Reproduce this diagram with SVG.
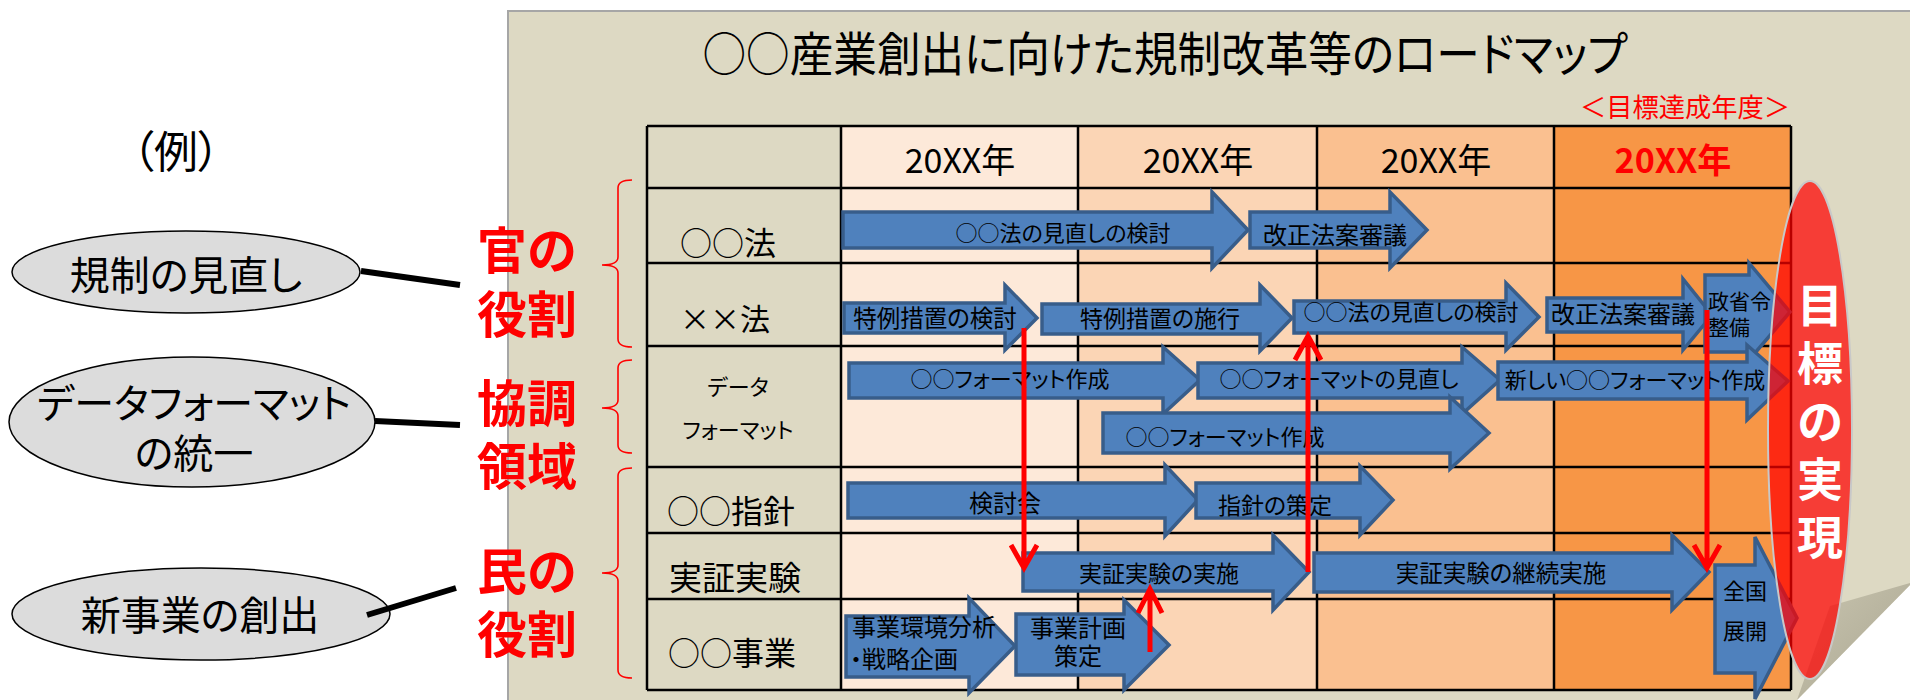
<svg xmlns="http://www.w3.org/2000/svg" width="1910" height="700" viewBox="0 0 1910 700">
<style>
text{font-family:"Noto Sans CJK JP","Noto Sans",sans-serif;font-feature-settings:"palt" 1;fill:#000}
.arw{fill:#4F81BD;stroke:#385D8A;stroke-width:3.5;stroke-linejoin:miter}
.grid{stroke:#000;stroke-width:2.5;fill:none}
.red{stroke:#FF0000;stroke-width:5;fill:none;stroke-linecap:butt}
.brace{stroke:#FF0000;stroke-width:1.6;fill:none}
.role{fill:#FF0000;font-weight:bold;font-size:50px}
.oval{fill:#DCDCDC;stroke:#000;stroke-width:1.5}
.conn{stroke:#000;stroke-width:6}
.al{font-size:22px}
.lbl{font-size:32px}
.hdr{font-size:34px;text-anchor:middle}
.mid{text-anchor:middle}
</style>
<defs>
<linearGradient id="flapg" x1="0" y1="0" x2="1" y2="1">
<stop offset="0" stop-color="#C9C5AF"/><stop offset="1" stop-color="#A9A591"/>
</linearGradient>
</defs>

<g id="panel">
<rect x="508" y="11" width="1410" height="700" fill="#DDD9C3" stroke="#A6A6A6" stroke-width="2"/>
<text x="1165" y="71" font-size="47" text-anchor="middle" textLength="925" lengthAdjust="spacingAndGlyphs">○○産業創出に向けた規制改革等のロードマップ</text>
<text x="1685" y="117" font-size="26" fill="#FF0000" style="fill:#FF0000" text-anchor="middle" textLength="210" lengthAdjust="spacingAndGlyphs">＜目標達成年度＞</text>
</g>

<g id="table">
<rect x="647" y="126" width="194" height="564" fill="#DDD9C3"/>
<rect x="841" y="126" width="237" height="564" fill="#FDE9D9"/>
<rect x="1078" y="126" width="239" height="564" fill="#FBD5B5"/>
<rect x="1317" y="126" width="237" height="564" fill="#FAC090"/>
<rect x="1554" y="126" width="237" height="564" fill="#F79646"/>
<path class="grid" d="M647,126H1791M647,188H1791M647,263H1791M647,346H1791M647,467H1791M647,533H1791M647,599H1791M647,690H1791M647,126V690M841,126V690M1078,126V690M1317,126V690M1554,126V690M1791,126V690"/>
<text class="hdr" x="960" y="173">20XX年</text>
<text class="hdr" x="1198" y="173">20XX年</text>
<text class="hdr" x="1436" y="173">20XX年</text>
<text class="hdr" x="1673" y="173" style="fill:#FF0000;font-weight:bold">20XX年</text>
<text class="lbl" x="680" y="255">○○法</text>
<text x="725" y="330" font-size="30" text-anchor="middle">××法</text>
<text x="738" y="395" font-size="22" text-anchor="middle">データ</text>
<text x="738" y="438" font-size="22" text-anchor="middle">フォーマット</text>
<text class="lbl mid" x="731" y="523">○○指針</text>
<text class="mid" x="735" y="590" font-size="33">実証実験</text>
<text class="lbl mid" x="732" y="665">○○事業</text>
</g>

<g id="legend">
<text x="176" y="168" font-size="44" text-anchor="middle">（例）</text>
<g id="oval-kisei">
<ellipse class="oval" cx="186" cy="272" rx="174" ry="41"/>
<text x="186" y="290" font-size="40" text-anchor="middle">規制の見直し</text>
</g>
<g id="oval-data">
<ellipse class="oval" cx="192" cy="422" rx="183" ry="65"/>
<text x="194" y="418" font-size="40" text-anchor="middle">データフォーマット</text>
<text x="194" y="468" font-size="40" text-anchor="middle">の統一</text>
</g>
<g id="oval-shin">
<ellipse class="oval" cx="201" cy="614" rx="189" ry="46"/>
<text x="200" y="630" font-size="40" text-anchor="middle">新事業の創出</text>
</g>
<g id="roles">
<text class="role" x="477" y="269">官の</text>
<text class="role" x="477" y="333">役割</text>
<text class="role" x="477" y="422">協調</text>
<text class="role" x="477" y="485">領域</text>
<text class="role" x="477" y="590">民の</text>
<text class="role" x="477" y="653">役割</text>
</g>
<g id="braces">
<path class="brace" d="M632,180Q618,180 618,188V257Q618,265 602,265Q618,265 618,273V339Q618,347 632,347"/>
<path class="brace" d="M632,360Q618,360 618,368V400Q618,408 602,408Q618,408 618,416V445Q618,453 632,453"/>
<path class="brace" d="M632,468Q618,468 618,476V565Q618,573 602,573Q618,573 618,581V670Q618,678 632,678"/>
</g>
</g>

<g id="connectors">
<line class="conn" x1="361" y1="271" x2="460" y2="285"/>
<line class="conn" x1="375" y1="421" x2="460" y2="425"/>
<line class="conn" x1="367" y1="615" x2="456" y2="588"/>
</g>

<g id="arrows">
<g id="a1"><path class="arw" d="M843,212H1212V192L1248,230L1212,268V248H843Z"/><text class="al mid" x="1063" y="241">○○法の見直しの検討</text></g>
<g id="a2"><path class="arw" d="M1250,212H1390V192L1427,230L1390,268V248H1250Z"/><text class="mid" x="1335" y="244" font-size="24">改正法案審議</text></g>
<g id="b1"><path class="arw" d="M844,303H1005V285L1037,318L1005,350V333H844Z"/><text class="mid" x="935" y="327" font-size="23.5">特例措置の検討</text></g>
<g id="b2"><path class="arw" d="M1042,304H1260V285L1292,318L1260,351V334H1042Z"/><text class="mid" x="1160" y="327" font-size="23">特例措置の施行</text></g>
<g id="b3"><path class="arw" d="M1294,301H1506V283L1539,317L1506,350V333H1294Z"/><text class="al mid" x="1411" y="320">○○法の見直しの検討</text></g>
<g id="b4"><path class="arw" d="M1547,298H1683V279L1712,315L1683,350V332H1547Z"/><text class="mid" x="1623" y="323" font-size="24">改正法案審議</text></g>
<g id="b5"><path class="arw" d="M1705,275H1749V263L1790,312L1749,360V352H1705Z"/><text x="1708" y="309" font-size="21">政省令</text><text x="1708" y="335" font-size="21">整備</text></g>
<g id="c1"><path class="arw" d="M849,363H1163V347L1200,380L1163,414V398H849Z"/><text class="al mid" x="1010" y="387">○○フォーマット作成</text></g>
<g id="c2"><path class="arw" d="M1198,363H1462V347L1500,380L1462,414V398H1198Z"/><text class="al mid" x="1339" y="387">○○フォーマットの見直し</text></g>
<g id="c3"><path class="arw" d="M1498,362H1747V345L1788,381L1747,420V399H1498Z"/><text class="al mid" x="1635" y="388">新しい○○フォーマット作成</text></g>
<g id="c4"><path class="arw" d="M1103,413H1450V397L1489,433L1450,469V453H1103Z"/><text class="al mid" x="1225" y="445">○○フォーマット作成</text></g>
<g id="d1"><path class="arw" d="M848,483H1165V465L1198,500L1165,536V518H848Z"/><text class="mid" x="1005" y="512" font-size="24">検討会</text></g>
<g id="d2"><path class="arw" d="M1196,483H1360V466L1393,500L1360,535V518H1196Z"/><text class="mid" x="1275" y="514" font-size="23">指針の策定</text></g>
<g id="e1"><path class="arw" d="M1023,553H1273V535L1309,572L1273,610V591H1023Z"/><text class="mid" x="1159" y="582" font-size="23">実証実験の実施</text></g>
<g id="e2"><path class="arw" d="M1314,553H1672V535L1709,572L1672,610V592H1314Z"/><text class="mid" x="1501" y="582" font-size="23.5">実証実験の継続実施</text></g>
<g id="e3"><path class="arw" d="M1715,565H1755V537L1797,618L1755,699V673H1715Z"/><text class="al" x="1723" y="599">全国</text><text class="al" x="1723" y="639">展開</text></g>
<g id="f1"><path class="arw" d="M846,616H969V598L1015,646L969,693V677H846Z"/><text x="852" y="636" font-size="24">事業環境分析</text><text x="850" y="668" font-size="24">・戦略企画</text></g>
<g id="f2"><path class="arw" d="M1016,614H1124V600L1169,645L1124,690V675H1016Z"/><text class="mid" x="1078" y="637" font-size="24">事業計画</text><text class="mid" x="1078" y="665" font-size="24">策定</text></g>
</g>

<g id="red-links">
<path class="red" d="M1024,328V565M1011,545L1024,568L1037,545"/>
<path class="red" d="M1308,572V337M1295,360L1308,336L1321,360"/>
<path class="red" d="M1150,652V590M1138,613L1150,589L1162,613"/>
<path class="red" d="M1707,310V566M1694,545L1707,568L1720,545"/>
</g>

<g id="curl">
<polygon points="1797,700 1910,585 1910,700" fill="#FFFFFF"/>
<polygon points="1830,606 1910,583 1910,585 1797,700" fill="url(#flapg)"/>
</g>

<g id="goal">
<ellipse cx="1810" cy="430" rx="42" ry="249" fill="#FF0000" fill-opacity="0.72"/>
<ellipse cx="1810" cy="430" rx="42" ry="249" fill="none" stroke="#C8C8C8" stroke-width="2"/>
<text x="1820" font-size="46" font-weight="bold" text-anchor="middle" style="fill:#FFFFFF"><tspan x="1820" y="322">目</tspan><tspan x="1820" y="380">標</tspan><tspan x="1820" y="438">の</tspan><tspan x="1820" y="496">実</tspan><tspan x="1820" y="554">現</tspan></text>
</g>
</svg>
